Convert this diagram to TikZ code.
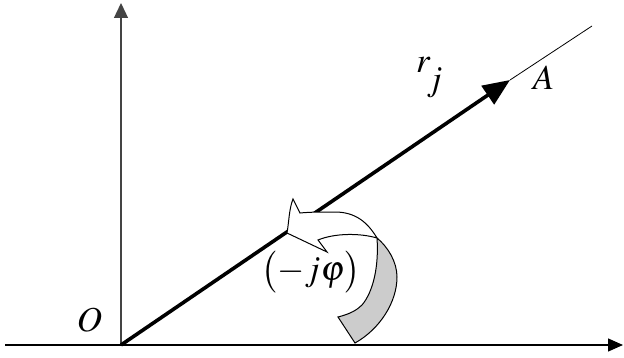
\documentclass[tikz,border=0pt]{standalone}
\usepackage{amsmath}
\usepackage{mathptmx}
\usepackage{tikz}
\usetikzlibrary{arrows.meta}
\definecolor{tailgray}{HTML}{CCCCCC}
\definecolor{axisgray}{HTML}{444444}
\tikzset{lbl/.style={font=\fontsize{35}{42}\selectfont, inner sep=0pt}}

\begin{document}
\begin{tikzpicture}[x=1pt, y=1pt]
    \useasboundingbox (0,0) rectangle (624,357);
    \coordinate (O) at (121,12);
    \coordinate (ytop) at (121,354);
    \coordinate (xleft) at (5,12);
    \coordinate (xright) at (623,12);
    \coordinate (tipA) at (510,277);
    \coordinate (lineend) at (592,331);
    \draw[line width=1.3pt, axisgray, -{Triangle[length=15pt,width=14pt]}] (O) -- (ytop);
    \draw[line width=1.3pt, -{Triangle[length=15pt,width=13pt]}] (xleft) -- (xright);
    \draw[line width=3.6pt, -{Triangle[length=27pt,width=22pt]}] (O) -- (tipA);
    \draw[line width=0.8pt] (tipA) -- (lineend);
    % grey back of the turning arrow
    \draw[line width=1pt, fill=tailgray] (377,119) .. controls (388,110) and (397,95) .. (397,80)
        .. controls (397,55) and (380,28) .. (355,14) -- (338,40)
        .. controls (350,43) and (357,47) .. (362,52)
        .. controls (373,65) and (379,90) .. (377,119) -- cycle;
    % white front with the head
    \draw[line width=1pt, fill=white] (377,119) .. controls (368,134) and (356,145) .. (335,145)
        .. controls (322,145) and (310,145) .. (300,144) -- (293,158)
        .. controls (289,148) and (289,135) .. (287,124) -- (327,105) -- (318,117)
        .. controls (335,124) and (360,124) .. (377,119) -- cycle;
    \node[lbl] (labO) at (89.5,36.5) {$O$};
    \node[lbl] (labA) at (543.5,279) {$A$};
    \node[lbl, anchor=base west] (labr) at (416,284) {$r\mkern-2mu\lower17pt\hbox{$j$}$};
    \node[lbl] (labphi) at (311,85) {$\bigl(-j\varphi\bigr)$};
\end{tikzpicture}
\end{document}
